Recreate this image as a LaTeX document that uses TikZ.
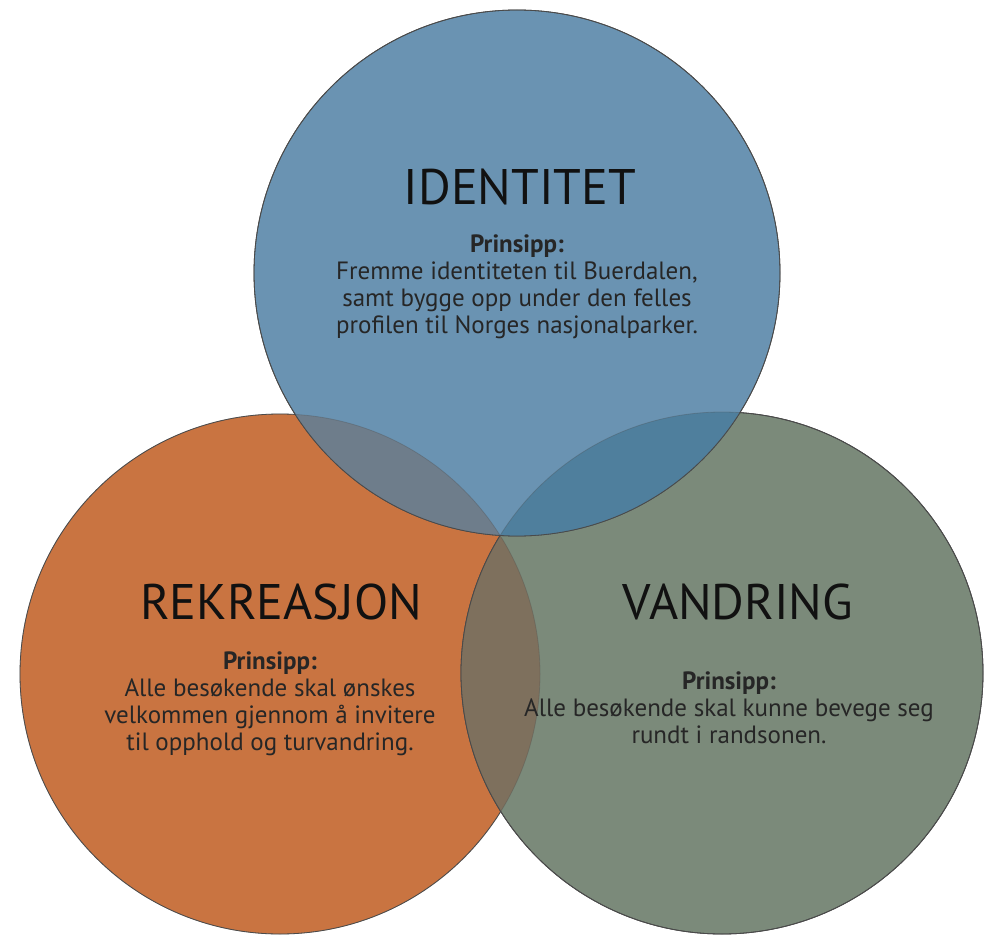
\documentclass[tikz,border=0pt]{standalone}
\usepackage{fontspec}
\setmainfont{PT Sans}
\usetikzlibrary{positioning}
\definecolor{idblue}{HTML}{6A93B2}
\definecolor{recorange}{HTML}{C97441}
\definecolor{vandgreen}{HTML}{7B8A7A}
\definecolor{blueorange}{HTML}{6E7D8B}
\definecolor{bluegreen}{HTML}{4F7F9D}
\definecolor{orangegreen}{HTML}{7E705D}
\definecolor{ringline}{HTML}{4A4A4A}
\definecolor{titletext}{HTML}{111111}
\definecolor{bodytext}{HTML}{262626}

\begin{document}
\begin{tikzpicture}[x=1pt, y=-1pt,
		ring/.style={circle, draw=ringline, line width=0.8pt, inner sep=0pt, minimum size=#1},
		title/.style={font=\fontsize{50}{54}\selectfont, text=titletext},
		prinsipp/.style={align=center, font=\fontsize{25}{27}\selectfont, text=bodytext}
		]
		\useasboundingbox (0,0) rectangle (985,944);
		
		% Circles
		\node[ring=520pt, fill=recorange] (rekreasjon) at (280,674) {};
		\node[ring=522pt, fill=vandgreen] (vandring) at (722,673) {};
		
		% Overlap left/right
		\begin{scope}
			\clip (rekreasjon.center) circle[radius=260pt];
			\fill[orangegreen] (vandring.center) circle[radius=261pt];
		\end{scope}
		\draw[ringline, line width=0.8pt] (vandring.center) circle[radius=261pt];
		
		% Top circle and its overlaps
		\node[ring=526pt, fill=idblue] (identitet) at (517,273) {};
		\begin{scope}
			\clip (identitet.center) circle[radius=263pt];
			\fill[blueorange] (rekreasjon.center) circle[radius=260pt];
			\fill[bluegreen] (vandring.center) circle[radius=261pt];
		\end{scope}
		\draw[ringline, line width=0.8pt, draw opacity=0.3]
			(rekreasjon.center) circle[radius=260pt]
			(vandring.center) circle[radius=261pt];
		\draw[ringline, line width=0.8pt] (identitet.center) circle[radius=263pt];
		
		% Titles
		\node[title] (idtitle) at (520,187) {IDENTITET};
		\node[title] (rectitle) at (281,602) {REKREASJON};
		\node[title] (vandtitle) at (738,602) {VANDRING};
		
		% Principles
		\node[prinsipp] (idtext) at (517,287) {\textbf{Prinsipp:}\\
			Fremme identiteten til Buerdalen,\\
			samt bygge opp under den felles\\
			profilen til Norges nasjonalparker.};
		\node[prinsipp] (rectext) at (270,704) {\textbf{Prinsipp:}\\
			Alle besøkende skal ønskes\\
			velkommen gjennom å invitere\\
			til opphold og turvandring.};
		\node[prinsipp] (vandtext) at (729,708) {\textbf{Prinsipp:}\\
			Alle besøkende skal kunne bevege seg\\
			rundt i randsonen.};
		
	\end{tikzpicture}
\end{document}
